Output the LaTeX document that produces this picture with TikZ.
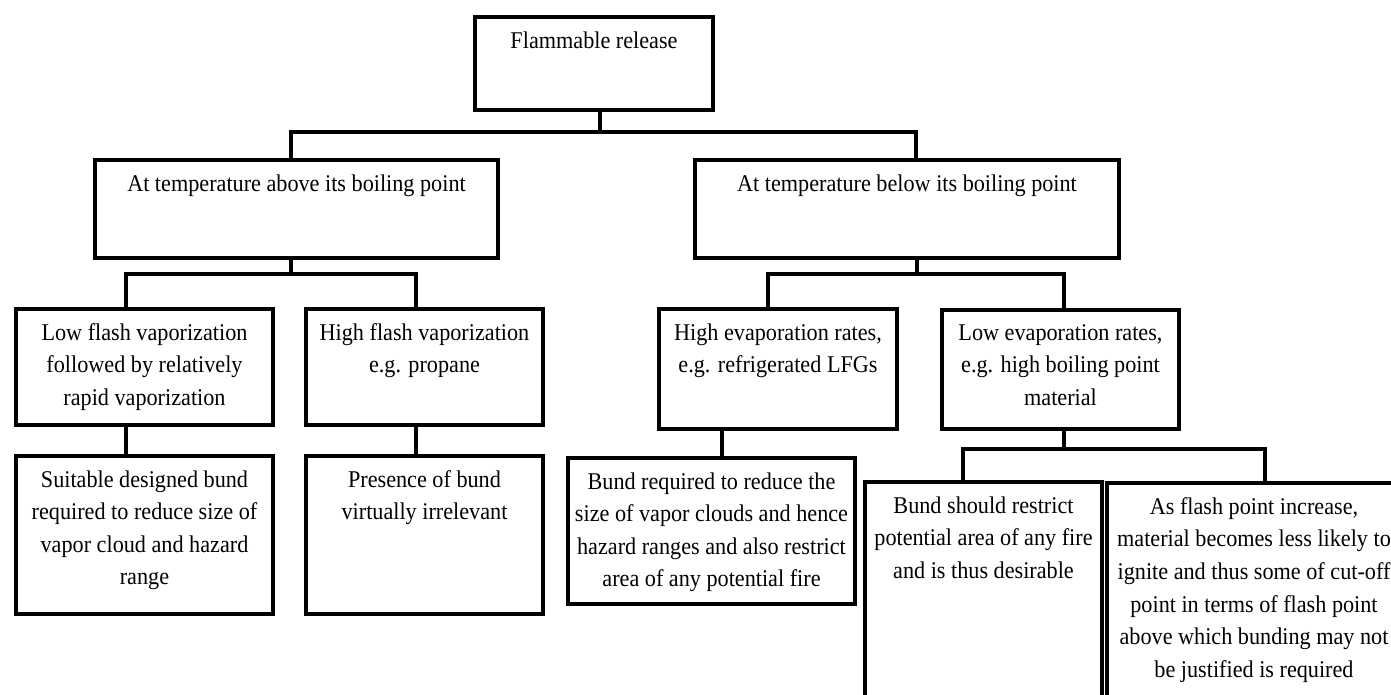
\documentclass[tikz,border=0pt]{standalone}
\usepackage{fontspec}
\setmainfont{Liberation Serif}[FakeStretch=0.925]
\usetikzlibrary{positioning}

\tikzset{
  box/.style={draw, line width=2pt, anchor=north west, inner sep=0pt},
  txt/.style={align=center, inner sep=0pt, font=\fontsize{12pt}{16.3pt}\selectfont},
  link/.style={line width=1.8pt},
}

\begin{document}
\begin{tikzpicture}[x=0.5pt, y=-0.5pt]
    \useasboundingbox (0,0) rectangle (1391,695);
    \clip (0,0) rectangle (1391,695);

    % Root
    \node[box, minimum width=119pt, minimum height=46.5pt] (top) at (473,15) {};
    \node[txt, below=8pt of top.north] (top-t) {Flammable release};

    % Level 1
    \node[box, minimum width=201.5pt, minimum height=49pt] (above) at (93,158) {};
    \node[txt, below=8pt of above.north] (above-t) {At temperature above its boiling point};
    \node[box, minimum width=212pt, minimum height=49pt] (below) at (693,158) {};
    \node[txt, below=8pt of below.north] (below-t) {At temperature below its boiling point};

    % Level 2
    \node[box, minimum width=128.5pt, minimum height=58pt] (lowflash) at (14,307) {};
    \node[txt, below=8pt of lowflash.north] (lowflash-t) {Low flash vaporization\\followed by relatively\\rapid vaporization};
    \node[box, minimum width=118.5pt, minimum height=58pt] (highflash) at (304,307) {};
    \node[txt, below=8pt of highflash.north] (highflash-t) {High flash vaporization\\e.g. propane};
    \node[box, minimum width=119pt, minimum height=60pt] (highevap) at (657,307) {};
    \node[txt, below=8pt of highevap.north] (highevap-t) {High evaporation rates,\\e.g. refrigerated LFGs};
    \node[box, minimum width=118.5pt, minimum height=59.5pt] (lowevap) at (940,308) {};
    \node[txt, below=8pt of lowevap.north] (lowevap-t) {Low evaporation rates,\\e.g. high boiling point\\material};

    % Level 3
    \node[box, minimum width=128.5pt, minimum height=79pt] (suitable) at (14,454) {};
    \node[txt, below=8pt of suitable.north] (suitable-t) {Suitable designed bund\\required to reduce size of\\vapor cloud and hazard\\range};
    \node[box, minimum width=118.5pt, minimum height=79pt] (presence) at (304,454) {};
    \node[txt, below=8pt of presence.north] (presence-t) {Presence of bund\\virtually irrelevant};
    \node[box, minimum width=143.5pt, minimum height=73pt] (bundreq) at (566,456) {};
    \node[txt, below=8pt of bundreq.north] (bundreq-t) {Bund required to reduce the\\size of vapor clouds and hence\\hazard ranges and also restrict\\area of any potential fire};
    \node[box, minimum width=118.5pt, minimum height=125pt] (bundshould) at (863,480) {};
    \node[txt, below=8pt of bundshould.north] (bundshould-t) {Bund should restrict\\potential area of any fire\\and is thus desirable};
    \node[box, minimum width=147pt, minimum height=124.5pt] (asflash) at (1105,481) {};
    \node[txt, below=8pt of asflash.north] (asflash-t) {As flash point increase,\\material becomes less likely to\\ignite and thus some of cut-off\\point in terms of flash point\\above which bunding may not\\be justified is required};

    % Bars
    \coordinate (b1) at (0,132);
    \coordinate (b2) at (0,274);
    \coordinate (b3) at (0,449);

    % Connectors
    \draw[link] ([xshift=3pt]top.south) -- ([xshift=3pt]top.south |- b1);
    \draw[link] ([xshift=-2.75pt]above.north) -- ([xshift=-2.75pt]above.north |- b1)
        -- ([xshift=4.5pt]below.north |- b1) -- ([xshift=4.5pt]below.north);

    \draw[link] ([xshift=-2.75pt]above.south) -- ([xshift=-2.75pt]above.south |- b2);
    \draw[link] ([xshift=-9.25pt]lowflash.north) -- ([xshift=-9.25pt]lowflash.north |- b2)
        -- ([xshift=-4.25pt]highflash.north |- b2) -- ([xshift=-4.25pt]highflash.north);

    \draw[link] ([xshift=5pt]below.south) -- ([xshift=5pt]below.south |- b2);
    \draw[link] ([xshift=-5pt]highevap.north) -- ([xshift=-5pt]highevap.north |- b2)
        -- ([xshift=1.75pt]lowevap.north |- b2) -- ([xshift=1.75pt]lowevap.north);

    \draw[link] ([xshift=-9.25pt]lowflash.south) -- ([xshift=-9.25pt]suitable.north);
    \draw[link] ([xshift=-4.25pt]highflash.south) -- ([xshift=-4.25pt]presence.north);
    \draw[link] ([xshift=-28pt]highevap.south) -- ([xshift=-28pt]highevap.south |- bundreq.north);

    \draw[link] ([xshift=1.75pt]lowevap.south) -- ([xshift=1.75pt]lowevap.south |- b3);
    \draw[link] ([xshift=-10.25pt]bundshould.north) -- ([xshift=-10.25pt]bundshould.north |- b3)
        -- ([xshift=5.5pt]asflash.north |- b3) -- ([xshift=5.5pt]asflash.north);
\end{tikzpicture}
\end{document}
